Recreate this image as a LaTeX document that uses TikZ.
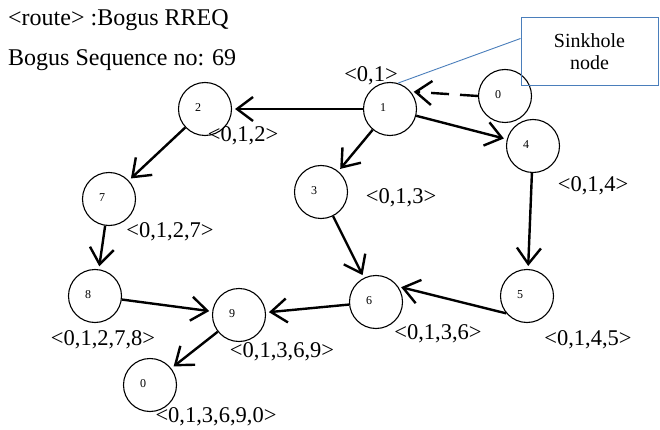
\documentclass[tikz,border=0pt]{standalone}
\usepackage{fontspec}
\setmainfont{Liberation Serif}
\usetikzlibrary{arrows.meta}
\definecolor{callout}{HTML}{4A7EBB}
\tikzset{
  num/.style={font=\fontsize{12}{14}\selectfont, xshift=-7pt, yshift=1pt, inner sep=0pt},
  vertex/.style={circle, draw, line width=1.1pt, minimum size=53pt, inner sep=0pt,
                 label={[num]center:#1}},
  route/.style={font=\fontsize{22.5}{26}\selectfont, inner sep=0pt},
  headline/.style={font=\fontsize{24}{28}\selectfont, inner sep=0pt, anchor=base west},
  sinkbox/.style={draw=callout, line width=1pt, minimum width=137pt, minimum height=68pt,
                  align=center, font=\fontsize{20}{22}\selectfont},
  hop/.style={line width=2.4pt, -{Straight Barb[length=16pt,width=24pt]}, shorten >=3pt},
  bogus/.style={hop, dash pattern=on 18pt off 11pt}
}
\begin{document}
\begin{tikzpicture}[x=1pt, y=-1pt]
\useasboundingbox (0,0) rectangle (660,430);

% header text
\node[headline] (title) at (8,26) {<route> :Bogus RREQ};
\node[headline] (seqno) at (8,66) {Bogus Sequence no: 69};

% nodes of the network
\node[vertex=1] (n1) at (390,109) {};
\node[vertex=0] (n0) at (505,96) {};
\node[vertex=2] (n2) at (205,109) {};
\node[vertex=3] (n3) at (321,192) {};
\node[vertex=4] (n4) at (533,146) {};
\node[vertex=7] (n7) at (109,199) {};
\node[vertex=8] (n8) at (95,296) {};
\node[vertex=9] (n9) at (239,315) {};
\node[vertex=6] (n6) at (376,302) {};
\node[vertex=5] (n5) at (527,296) {};
\node[vertex=0] (d0) at (150,385) {};

% route records
\node[route] (r1) at (371,76) {<0,1>};
\node[route] (r2) at (243,136) {<0,1,2>};
\node[route] (r7) at (170,232) {<0,1,2,7>};
\node[route] (r3) at (401,198) {<0,1,3>};
\node[route] (r4) at (593,186) {<0,1,4>};
\node[route] (r6) at (438,334) {<0,1,3,6>};
\node[route] (r5) at (588,340) {<0,1,4,5>};
\node[route] (r8) at (103,340) {<0,1,2,7,8>};
\node[route] (r9) at (282,352) {<0,1,3,6,9>};
\node[route] (rd) at (216,417) {<0,1,3,6,9,0>};

% callout
\node[sinkbox] (sink) at (589.5,52) {Sinkhole\\node};
\draw[callout, line width=0.9pt] ([yshift=-21pt]sink.north west) -- (n1.73);

% forwarding of the bogus RREQ
\draw[bogus] (n0.180) -- (n1.40);
\draw[hop] (n1) -- (n2);
\draw[hop] (n1) -- (n3);
\draw[hop] (n1) -- (n4);
\draw[hop] (n2) -- (n7);
\draw[hop] (n7) -- (n8);
\draw[hop] (n3) -- (n6);
\draw[hop] (n4) -- (n5);
\draw[hop] (n5.220) -- (n6.35);
\draw[hop] (n6) -- (n9);
\draw[hop] (n8) -- (n9);
\draw[hop] (n9) -- (d0);
\end{tikzpicture}
\end{document}
